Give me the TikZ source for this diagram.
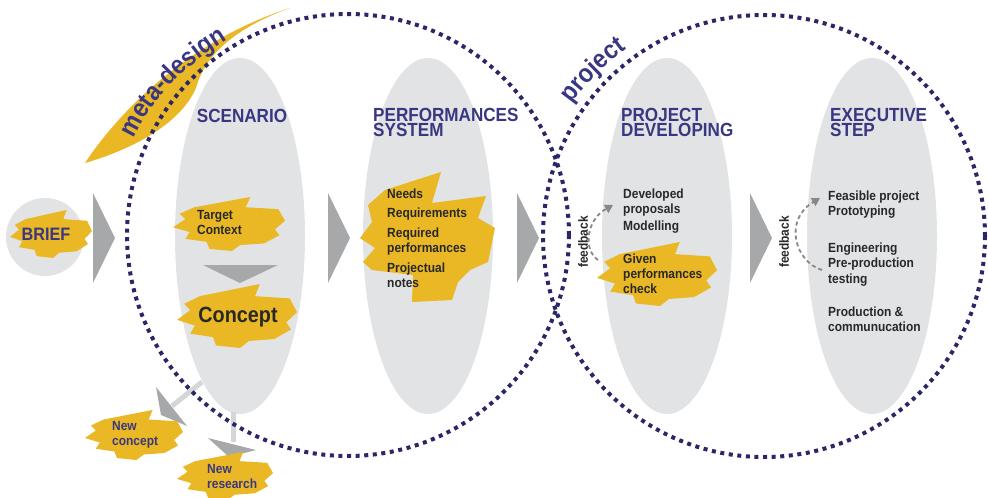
\documentclass[tikz,border=0pt]{standalone}
\usepackage{fontspec}
\setmainfont{Liberation Sans}
\newfontfamily\narrowsans[FakeStretch=0.9]{Liberation Sans}
\usetikzlibrary{shapes.geometric,arrows.meta,decorations.text,positioning}

\definecolor{navy}{RGB}{58,55,130}
\definecolor{dotnavy}{RGB}{43,39,103}
\definecolor{brushyellow}{RGB}{233,184,36}
\definecolor{stagegray}{RGB}{226,227,228}
\definecolor{flowgray}{RGB}{167,168,170}
\definecolor{spurgray}{RGB}{213,214,215}
\definecolor{textdark}{RGB}{40,40,40}
\definecolor{fbgray}{RGB}{135,136,138}

\tikzset{
  stage/.style={ellipse, fill=stagegray, minimum width=130pt, minimum height=356pt, inner sep=0pt},
  title/.style={font=\narrowsans\bfseries\fontsize{19}{15}\selectfont, text=navy, align=left, inner sep=0pt, anchor=base west},
  body/.style={font=\narrowsans\bfseries\fontsize{13.3}{15}\selectfont, text=textdark, align=left, inner sep=0pt, anchor=base west},
  brush/.style={fill=brushyellow},
  flow/.style={fill=flowgray},
  spur/.style={draw=spurgray, line width=5pt},
  ring/.style={draw=dotnavy, line width=4pt, dash pattern=on 4pt off 4.6pt},
  feedback/.style={draw=fbgray, line width=1.8pt, dash pattern=on 4pt off 3pt, -{Triangle[width=9pt,length=8pt]}}
}

% one yellow brush stroke: centre x, centre y, half width, half height
\newcommand{\brushpatch}[4]{%
  \fill[brush,shift={(#1,#2)},xscale=#3,yscale=#4]
    (-0.62,-0.62) -- (0.38,-1) -- (0.3,-0.62) -- (0.88,-0.55) -- (1,-0.12)
    -- (0.82,0.2) -- (0.9,0.42) -- (0.62,0.72) -- (0.2,0.78) -- (0.05,1)
    -- (-0.35,0.92) -- (-0.4,0.66) -- (-0.78,0.55) -- (-0.7,0.3) -- (-1,0.12)
    -- (-0.78,-0.18) -- (-0.88,-0.38) -- cycle;}

\begin{document}
\begin{tikzpicture}[x=1pt,y=-1pt]
\useasboundingbox (0,0) rectangle (988,498);

% meta-design swoosh
\fill[brush] (85,163) .. controls (120,110) and (190,40) .. (290,8)
  .. controls (235,28) and (205,55) .. (196,88)
  .. controls (180,125) and (130,150) .. cycle;

% stages
\node[circle, fill=stagegray, minimum size=78pt, inner sep=0pt] (briefbg) at (45,237) {};
\node[stage] (scen) at (240,236) {};
\node[stage] (perf) at (428,236) {};
\node[stage] (dev) at (667,236) {};
\node[stage] (exec) at (872,236) {};

% flow triangles
\foreach \x in {93,328,517,750}
  \fill[flow] (\x,193) -- (\x+22,238) -- (\x,283) -- cycle;
\fill[flow] (203,265) -- (278,265) -- (240,283) -- cycle;

% spurs to new concept / new research
\coordinate (spurA) at (202,382);
\coordinate (spurAend) at (172,406);
\coordinate (spurB) at (233,412);
\coordinate (spurBend) at (233,442);
\draw[spur] (spurA) -- (spurAend);
\draw[spur] (spurB) -- (spurBend);
\fill[flow] (156,387) -- (187,426) -- (161,415) -- cycle;
\fill[flow] (208,438) -- (256,450) -- (229,457) -- cycle;

% brush strokes
\brushpatch{51}{234}{41}{24}
\brushpatch{229}{224}{56}{27}
\brushpatch{237}{316}{60}{32}
\brushpatch{657}{274}{60}{32}
\brushpatch{134}{435}{49}{25}
\brushpatch{225}{476}{48}{24}
\fill[brush] (368,205) -- (385,190) -- (441,172) -- (432,203) -- (486,196)
  -- (478,218) -- (495,228) -- (488,262) -- (470,270) -- (458,282)
  -- (452,300) -- (412,302) -- (413,275) -- (372,270) -- (363,262)
  -- (375,248) -- (360,238) -- (372,222) -- cycle;

% meta-design and project rings
\draw[ring] (348,235) circle[radius=221pt];
\draw[ring] (764,236) circle[radius=221pt];

\path[decorate, decoration={text along path, text align=center,
  text={|\narrowsans\bfseries\fontsize{26}{26}\selectfont\color{navy}|meta-design}}]
  (132,142) .. controls (151,98) and (189,63) .. (231,38);
\path[decorate, decoration={text along path, text align=center,
  text={|\narrowsans\bfseries\fontsize{26}{26}\selectfont\color{navy}|project}}]
  (572,104) .. controls (587,83) and (606,64) .. (627,49);

% titles
\node[title, font=\narrowsans\bfseries\fontsize{18}{18}\selectfont, anchor=base] (brief) at (46,240) {BRIEF};
\node[title, anchor=base] (scentitle) at (242,122) {SCENARIO};
\node[title] (perftitle) at (373,136) {PERFORMANCES\\SYSTEM};
\node[title] (devtitle) at (621,136) {PROJECT\\DEVELOPING};
\node[title] (exectitle) at (830,136) {EXECUTIVE\\STEP};

% scenario
\node[body] (target) at (197,234) {Target\\Context};
\node[body, font=\narrowsans\bfseries\fontsize{22}{22}\selectfont, anchor=base] (concept) at (238,322) {Concept};
\node[body, text=navy] (newconc) at (112,445) {New\\concept};
\node[body, text=navy] (newres) at (207,488) {New\\research};

% performances system
\node[body] (needs) at (387,198) {Needs};
\node[body] (reqs) at (387,217) {Requirements};
\node[body] (reqperf) at (387,252) {Required\\performances};
\node[body] (projnotes) at (387,287) {Projectual\\notes};

% project developing
\node[body] (devprop) at (623,213) {Developed\\proposals};
\node[body] (model) at (623,230) {Modelling};
\node[body] (given) at (623,293) {Given\\performances\\check};
\node[body, rotate=90, anchor=center] (fbdev) at (583,242) {feedback};
\coordinate (fbdevs) at (598,260);
\coordinate (fbdeve) at (613,205);
\draw[feedback] (fbdevs) .. controls (583,250) and (586,220) .. (fbdeve);

% executive step
\node[body] (feasible) at (828,215) {Feasible project\\Prototyping};
\node[body, font=\narrowsans\bfseries\fontsize{13.3}{15.5}\selectfont] (engin) at (828,283) {Engineering\\Pre-production\\testing};
\node[body] (prodcomm) at (828,331) {Production \&\\communucation};
\node[body, rotate=90, anchor=center] (fbexec) at (784,242) {feedback};
\coordinate (fbexecs) at (822,270);
\coordinate (fbexece) at (820,198);
\draw[feedback] (fbexecs) .. controls (795,262) and (783,220) .. (fbexece);
\end{tikzpicture}
\end{document}
